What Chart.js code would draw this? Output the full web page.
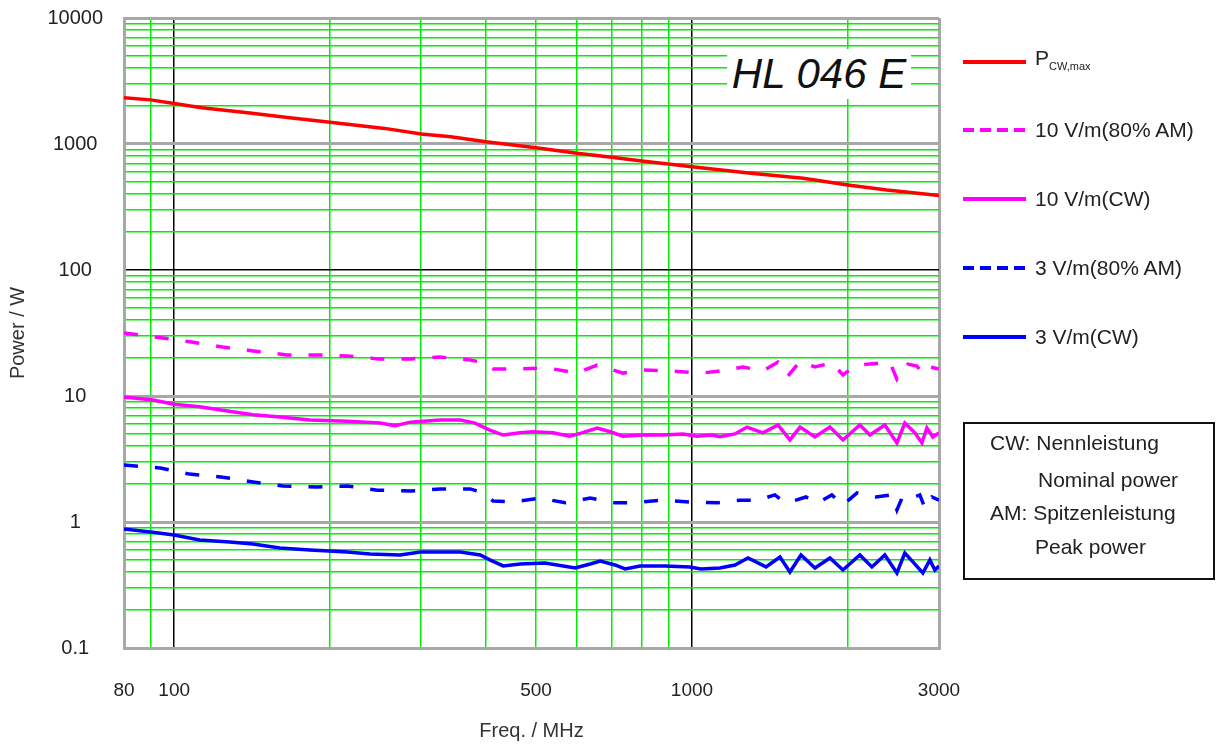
<!DOCTYPE html>
<html>
<head>
<meta charset="utf-8">
<title>HL 046 E</title>
<script src="https://cdn.jsdelivr.net/npm/chart.js@4/dist/chart.umd.min.js"></script>
<style>
  body { margin: 0; background: #fff; font-family: "Liberation Sans", Arial, sans-serif; color: #222; }
  #wrap { position: relative; width: 1222px; height: 746px; overflow: hidden; }
  #chart { position: absolute; left: 0; top: 0; }
  .tag { position: absolute; left: 727px; top: 49px; width: 184px; height: 50px; background: #fff;
         font-style: italic; font-size: 42px; line-height: 50px; text-align: center; color: #111; }
  .item { position: absolute; left: 963px; height: 24px; display: flex; align-items: center;
          white-space: nowrap; font-size: 21px; line-height: 24px; }
  .item svg { margin-right: 9px; }
  .item sub { font-size: 11px; vertical-align: -5px; }
  .note { position: absolute; left: 963px; top: 422px; width: 248px; height: 154px; border: 2px solid #111; }
  .note div { position: absolute; font-size: 21px; line-height: 24px; white-space: nowrap; }
</style>
</head>
<body>
<div id="wrap">
  <canvas id="chart" width="1222" height="746"></canvas>
  <div class="tag">HL 046 E</div>

  <div class="item" style="top:50px"><svg width="63" height="6"><line x1="0" y1="3" x2="63" y2="3" stroke="#ff0000" stroke-width="4"/></svg><span>P<sub>CW,max</sub></span></div>
  <div class="item" style="top:118px"><svg width="63" height="6"><line x1="0" y1="3" x2="63" y2="3" stroke="#ff00ff" stroke-width="4" stroke-dasharray="11 6"/></svg><span>10 V/m(80% AM)</span></div>
  <div class="item" style="top:187px"><svg width="63" height="6"><line x1="0" y1="3" x2="63" y2="3" stroke="#ff00ff" stroke-width="4"/></svg><span>10 V/m(CW)</span></div>
  <div class="item" style="top:256px"><svg width="63" height="6"><line x1="0" y1="3" x2="63" y2="3" stroke="#0000ff" stroke-width="4" stroke-dasharray="11 6"/></svg><span>3 V/m(80% AM)</span></div>
  <div class="item" style="top:325px"><svg width="63" height="6"><line x1="0" y1="3" x2="63" y2="3" stroke="#0000ff" stroke-width="4"/></svg><span>3 V/m(CW)</span></div>

  <div class="note">
    <div style="left:25px;top:7px">CW: Nennleistung</div>
    <div style="left:73px;top:44px">Nominal power</div>
    <div style="left:25px;top:77px">AM: Spitzenleistung</div>
    <div style="left:70px;top:111px">Peak power</div>
  </div>
</div>

<script>
// values (MHz / W)
const pmaxFreq = [80, 90, 100, 113, 140, 164, 200, 255, 300, 342, 400, 500, 600, 700, 800, 900, 1000, 1300, 1640, 2000, 2380, 3000];
const pmaxPower = [2330, 2240, 2100, 1940, 1760, 1630, 1490, 1330, 1200, 1140, 1040, 935, 843, 784, 733, 694, 660, 585, 534, 473, 431, 390];

const am10Freq = [80, 95, 108, 124, 142, 165, 189, 216, 248, 286, 326, 373, 390, 413, 459, 525, 600, 656, 736, 804,
  915, 1045, 1173, 1254, 1371, 1466, 1532, 1617, 1728, 1863, 1957, 2064, 2177, 2327, 2411, 2488, 2612, 2719, 2792, 2881, 3000];
const am10Power = [31.6, 28.9, 26.8, 24.5, 22.8, 21.2, 21.2, 20.8, 19.7, 19.7, 20.4, 19.3, 18.6, 16.4, 16.4, 16.7, 15.2, 17.6, 15.2, 16.1,
  15.8, 15.2, 16.1, 17.0, 15.8, 18.6, 14.4, 18.9, 17.0, 18.3, 14.7, 17.3, 17.9, 18.3, 18.6, 13.6, 17.9, 17.3, 15.0, 17.0, 16.4];

const cw10Freq = [80, 91, 100, 112, 124, 142, 160, 183, 216, 250, 267, 286, 326, 357, 381, 407, 432, 466, 493, 539,
  581, 613, 656, 695, 736, 804, 879, 961, 1023, 1093, 1132, 1211, 1277, 1371, 1466, 1546, 1617, 1728, 1847, 1957,
  2110, 2206, 2358, 2488, 2577, 2695, 2780, 2843, 2920, 3000];
const cw10Power = [9.8, 9.3, 8.6, 8.2, 7.7, 7.1, 6.8, 6.45, 6.3, 6.1, 5.8, 6.2, 6.45, 6.45, 6.1, 5.37, 4.9, 5.1, 5.2, 5.1,
  4.8, 5.1, 5.57, 5.2, 4.8, 4.9, 4.9, 5.0, 4.8, 4.9, 4.75, 5.0, 5.67, 5.1, 5.89, 4.48, 5.67, 4.73, 5.67, 4.48,
  5.89, 4.9, 5.89, 4.24, 6.1, 5.1, 4.24, 5.57, 4.73, 5.1];

const am3Freq = [80, 94, 107, 123, 142, 162, 189, 216, 247, 286, 326, 373, 390, 413, 451, 466, 509, 569, 636, 710,
  776, 868, 991, 1122, 1238, 1341, 1446, 1512, 1588, 1660, 1751, 1863, 1957, 2083, 2158, 2266, 2433, 2488, 2555, 2659,
  2755, 2818, 2906, 3000];
const am3Power = [2.83, 2.68, 2.4, 2.28, 2.08, 1.93, 1.9, 1.93, 1.79, 1.76, 1.83, 1.83, 1.73, 1.47, 1.44, 1.47, 1.55, 1.42, 1.55, 1.42,
  1.42, 1.49, 1.44, 1.42, 1.49, 1.49, 1.64, 1.42, 1.49, 1.58, 1.42, 1.64, 1.36, 1.70, 1.64, 1.58, 1.64, 1.245, 1.61, 1.55,
  1.64, 1.29, 1.58, 1.49];

const cw3Freq = [80, 90, 100, 112, 128, 142, 160, 183, 216, 239, 273, 299, 357, 390, 407, 432, 466, 520, 595, 636,
  665, 710, 743, 794, 887, 991, 1041, 1132, 1211, 1283, 1390, 1479, 1546, 1624, 1728, 1847, 1957, 2110, 2226, 2358,
  2488, 2577, 2671, 2792, 2881, 2945, 3000];
const cw3Power = [0.88, 0.833, 0.789, 0.72, 0.694, 0.669, 0.622, 0.6, 0.578, 0.557, 0.547, 0.578, 0.578, 0.547, 0.5, 0.448, 0.464, 0.473, 0.431, 0.464,
  0.49, 0.456, 0.424, 0.448, 0.448, 0.44, 0.424, 0.431, 0.456, 0.518, 0.44, 0.527, 0.401, 0.547, 0.431, 0.518, 0.416, 0.547, 0.44, 0.547,
  0.394, 0.567, 0.482, 0.394, 0.5, 0.416, 0.448];

// axis ticks
const xGridValues = [80, 90, 100, 200, 300, 400, 500, 600, 700, 800, 900, 1000, 2000, 3000];
const xTickLabels = [80, 100, 500, 1000, 3000];
const yTickLabels = [0.1, 1, 10, 100, 1000, 10000];
const yMultipliers = [1, 2, 3, 4, 5, 6, 7, 8, 9];

const GREEN = '#00ee00';
const GRAY = '#a8a8a8';

function pairs(freq, power) {
  return freq.map((f, i) => ({ x: f, y: power[i] }));
}

function yGridValues() {
  const vals = [];
  yTickLabels.slice(0, -1).forEach(d => {
    yMultipliers.forEach(m => vals.push(parseFloat((d * m).toPrecision(6))));
  });
  vals.push(10000);
  return vals;
}

function lineSet(label, freq, power, color, dashed) {
  return {
    label: label,
    data: pairs(freq, power),
    borderColor: color,
    backgroundColor: color,
    borderWidth: 3.5,
    borderDash: dashed ? [14, 17] : [],
    pointRadius: 0,
    tension: 0,
    fill: false
  };
}

new Chart(document.getElementById('chart').getContext('2d'), {
  type: 'line',
  data: {
    datasets: [
      lineSet('P CW,max', pmaxFreq, pmaxPower, '#ff0000', false),
      lineSet('10 V/m(80% AM)', am10Freq, am10Power, '#ff00ff', true),
      lineSet('10 V/m(CW)', cw10Freq, cw10Power, '#ff00ff', false),
      lineSet('3 V/m(80% AM)', am3Freq, am3Power, '#0000ff', true),
      lineSet('3 V/m(CW)', cw3Freq, cw3Power, '#0000ff', false)
    ]
  },
  options: {
    responsive: false,
    animation: false,
    devicePixelRatio: 1,
    layout: { padding: { left: 0, right: 283, top: 18, bottom: 0 } },
    plugins: {
      legend: { display: false },
      tooltip: { enabled: false }
    },
    scales: {
      x: {
        type: 'logarithmic',
        min: 80,
        max: 3000,
        afterFit: (scale) => { scale.height = 98; },
        afterBuildTicks: (scale) => { scale.ticks = xGridValues.map(v => ({ value: v })); },
        ticks: {
          autoSkip: false,
          maxRotation: 0,
          padding: 31,
          color: '#222',
          font: { family: '"Liberation Sans", Arial, sans-serif', size: 19 },
          callback: (value) => xTickLabels.includes(value) ? String(value) : ''
        },
        grid: {
          drawTicks: false,
          color: (ctx) => {
            const v = ctx.tick && ctx.tick.value;
            if (v === 100 || v === 1000) return '#000';
            if (v === 80 || v === 3000) return GRAY;
            return GREEN;
          },
          lineWidth: (ctx) => {
            const v = ctx.tick && ctx.tick.value;
            if (v === 80 || v === 3000) return 3;
            return 1.5;
          }
        },
        border: { display: true, color: GRAY, width: 3 },
        title: {
          display: true,
          text: 'Freq. / MHz',
          color: '#333',
          font: { family: '"Liberation Sans", Arial, sans-serif', size: 20 },
          padding: { top: 0, bottom: 3 }
        }
      },
      y: {
        type: 'logarithmic',
        min: 0.1,
        max: 10000,
        afterFit: (scale) => {
          scale.width = 124;
          // keep the tick padding from pushing the plot down
          scale.paddingTop = 10;
          scale.paddingBottom = 10;
        },
        afterBuildTicks: (scale) => { scale.ticks = yGridValues().map(v => ({ value: v })); },
        ticks: {
          autoSkip: false,
          crossAlign: 'center',
          padding: 21,
          color: '#222',
          font: { family: '"Liberation Sans", Arial, sans-serif', size: 20 },
          callback: (value) => yTickLabels.includes(value) ? String(value) : ''
        },
        grid: {
          drawTicks: false,
          color: (ctx) => {
            const v = ctx.tick && ctx.tick.value;
            if (v === 100) return '#000';
            if (yTickLabels.includes(v)) return GRAY;
            return GREEN;
          },
          lineWidth: (ctx) => {
            const v = ctx.tick && ctx.tick.value;
            if (v === 100) return 1.5;
            if (yTickLabels.includes(v)) return 3;
            return 1.5;
          }
        },
        border: { display: true, color: GRAY, width: 3 },
        title: {
          display: true,
          text: 'Power / W',
          color: '#333',
          font: { family: '"Liberation Sans", Arial, sans-serif', size: 20 },
          padding: { top: 6, bottom: 0 }
        }
      }
    }
  }
});
</script>
</body>
</html>
